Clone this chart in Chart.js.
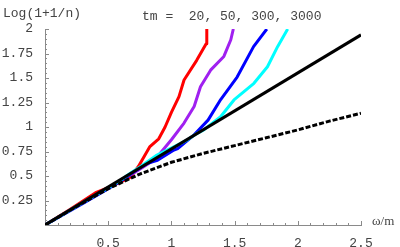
<!DOCTYPE html>
<html>
<head>
<meta charset="utf-8">
<script src="https://cdn.jsdelivr.net/npm/chart.js@4.4.1/dist/chart.umd.min.js"></script>
<style>
  body { margin: 0; background: #fff; }
  canvas { display: block; }
</style>
</head>
<body>
<canvas id="myChart" width="400" height="247"></canvas>
<script>
// values (x = ω/m, y = Log(1+1/n))
const redX    = [0, 0.2, 0.4, 0.5, 0.6, 0.68, 0.74, 0.78, 0.83, 0.9, 0.95, 1.0, 1.06, 1.1, 1.2, 1.275, 1.28];
const redY    = [0, 0.16, 0.33, 0.38, 0.44, 0.49, 0.6, 0.69, 0.8, 0.88, 1.0, 1.15, 1.31, 1.48, 1.68, 1.85, 2.0];
const purpleX = [0, 0.3, 0.5, 0.65, 0.75, 0.86, 0.91, 1.0, 1.1, 1.18, 1.23, 1.31, 1.415, 1.47, 1.49];
const purpleY = [0, 0.23, 0.38, 0.49, 0.57, 0.66, 0.73, 0.87, 1.04, 1.21, 1.41, 1.58, 1.72, 1.89, 2.0];
const blueX   = [0, 0.3, 0.5, 0.6, 0.7, 0.81, 0.89, 1.02, 1.05, 1.18, 1.29, 1.39, 1.52, 1.65, 1.755];
const blueY   = [0, 0.22, 0.37, 0.45, 0.54, 0.63, 0.66, 0.765, 0.78, 0.92, 1.07, 1.28, 1.51, 1.82, 2.0];
const cyanX   = [0, 0.3, 0.5, 0.6, 0.675, 0.754, 0.886, 0.99, 1.07, 1.124, 1.204, 1.256, 1.389, 1.495, 1.653, 1.76, 1.84, 1.92];
const cyanY   = [0, 0.23, 0.38, 0.46, 0.527, 0.595, 0.714, 0.78, 0.83, 0.867, 0.935, 0.97, 1.105, 1.276, 1.446, 1.615, 1.82, 2.0];
const lineX   = [0, 2.5];
const lineY   = [0, 1.94];
const dashX   = [0, 0.25, 0.5, 0.75, 1.0, 1.25, 1.5, 1.75, 2.0, 2.25, 2.5];
const dashY   = [0, 0.19, 0.37, 0.52, 0.64, 0.73, 0.81, 0.89, 0.97, 1.06, 1.14];

const xTicks = [0.5, 1, 1.5, 2, 2.5];
const yTicks = [0.25, 0.5, 0.75, 1, 1.25, 1.5, 1.75, 2];

const toXY = (xs, ys) => xs.map((x, i) => ({ x: x, y: ys[i] }));

const axisColor = '#8a8a8a';
const textColor = '#444';
const mono = '"Liberation Mono", "DejaVu Sans Mono", monospace';

// Mathematica style axes: inward ticks + minor ticks, plus the labels
const axesPlugin = {
    id: 'axesPlugin',
    afterDraw(chart) {
        const ctx = chart.ctx;
        const xs = chart.scales.x, ys = chart.scales.y;
        const x0 = xs.getPixelForValue(0), y0 = ys.getPixelForValue(0);
        ctx.save();
        ctx.strokeStyle = axisColor;
        ctx.lineWidth = 1;
        ctx.beginPath();
        for (let i = 1; i <= 25; i++) {
            const v = i * 0.1;
            const px = Math.round(xs.getPixelForValue(v)) + 0.5;
            const len = (i % 5 === 0) ? 4 : 2;
            ctx.moveTo(px, y0);
            ctx.lineTo(px, y0 - len);
        }
        for (let i = 1; i <= 40; i++) {
            const v = i * 0.05;
            const py = Math.round(ys.getPixelForValue(v)) + 0.5;
            const len = (i % 5 === 0) ? 4 : 2;
            ctx.moveTo(x0, py);
            ctx.lineTo(x0 + len, py);
        }
        ctx.stroke();

        ctx.fillStyle = textColor;
        ctx.font = '13px ' + mono;
        ctx.textBaseline = 'middle';
        ctx.textAlign = 'left';
        ctx.fillText('Log(1+1/n)', 3, 14);
        ctx.fillText('tm =  20, 50, 300, 3000', 142, 17);
        ctx.font = '13px "Liberation Serif", "DejaVu Serif", serif';
        ctx.fillText('ω/m', 372, 222);
        ctx.restore();
    }
};

const ctx = document.getElementById('myChart').getContext('2d');
new Chart(ctx, {
    type: 'line',
    data: {
        datasets: [
            { data: toXY(dashX, dashY), borderColor: '#000', borderWidth: 3, borderDash: [5, 2], order: 0 },
            { data: toXY(lineX, lineY), borderColor: '#000', borderWidth: 3, order: 1 },
            { data: toXY(cyanX, cyanY), borderColor: '#00ffff', borderWidth: 3, order: 2 },
            { data: toXY(blueX, blueY), borderColor: '#0000ff', borderWidth: 3, order: 3 },
            { data: toXY(purpleX, purpleY), borderColor: '#a020f0', borderWidth: 3, order: 4 },
            { data: toXY(redX, redY), borderColor: '#ff0000', borderWidth: 3, order: 5 }
        ]
    },
    options: {
        responsive: false,
        animation: false,
        events: [],
        layout: { padding: { top: 29, right: 39, left: 0, bottom: 0 } },
        elements: {
            point: { radius: 0 },
            line: { tension: 0, fill: false, borderJoinStyle: 'round', borderCapStyle: 'butt' }
        },
        plugins: { legend: { display: false }, tooltip: { enabled: false } },
        scales: {
            x: {
                type: 'linear',
                min: 0, max: 2.5,
                afterFit: s => { s.height = 22; },
                afterBuildTicks: s => { s.ticks = xTicks.map(v => ({ value: v })); },
                grid: { display: false },
                border: { display: true, color: axisColor, width: 1 },
                ticks: {
                    padding: 3,
                    maxRotation: 0,
                    color: textColor,
                    font: { family: mono, size: 13 },
                    callback: v => String(v)
                }
            },
            y: {
                type: 'linear',
                min: 0, max: 2,
                afterFit: s => { s.width = 45; },
                afterBuildTicks: s => { s.ticks = yTicks.map(v => ({ value: v })); },
                grid: { display: false },
                border: { display: true, color: axisColor, width: 1 },
                ticks: {
                    padding: 4,
                    color: textColor,
                    font: { family: mono, size: 13 },
                    callback: v => String(v)
                }
            }
        }
    },
    plugins: [axesPlugin]
});
</script>
</body>
</html>
